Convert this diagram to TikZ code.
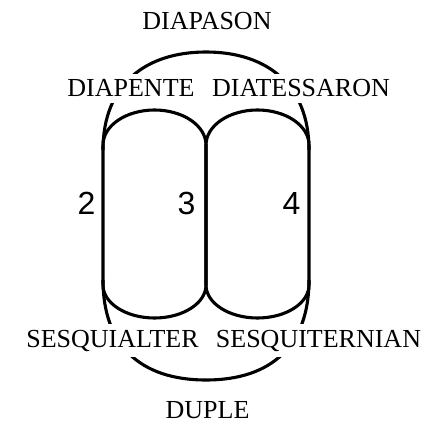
\documentclass[tikz,border=0pt]{standalone}
\usepackage{fontspec}
\setmainfont{Liberation Serif}
\newfontfamily\numfont{Liberation Sans}
\begin{document}
\begin{tikzpicture}[x=1pt,y=1pt,line width=3.1pt,
  lbl/.style={font=\fontsize{26}{28}\selectfont,fill=white,inner xsep=2pt,inner ysep=6pt,anchor=base},
  num/.style={font=\numfont\fontsize{32}{34}\selectfont,inner sep=0pt,anchor=base east}]
\useasboundingbox (0,0) rectangle (428,423);
% two capsules
\draw (103,278) arc[start angle=180,end angle=0,x radius=51.5pt,y radius=35pt]
  -- (206,138) arc[start angle=0,end angle=-180,x radius=51.5pt,y radius=33pt] -- cycle;
\draw (206,278) arc[start angle=180,end angle=0,x radius=51.5pt,y radius=35pt]
  -- (309,138) arc[start angle=0,end angle=-180,x radius=51.5pt,y radius=33pt] -- cycle;
% outer curves
\draw (103,273) .. controls (103,338) and (145,371) .. (206,371)
  .. controls (267,371) and (309,338) .. (309,273);
\draw (103,143) .. controls (103,78) and (140,43) .. (206,43)
  .. controls (272,43) and (309,78) .. (309,143);
% labels
\node[lbl] (diapason) at (207,393) {DIAPASON};
\node[lbl] (diapente) at (131,326) {DIAPENTE};
\node[lbl] (diatess) at (301,326) {DIATESSARON};
\node[lbl] (sesquialter) at (112.5,76) {SESQUIALTER};
\node[lbl] (sesquiternian) at (318.5,76) {SESQUITERNIAN};
\node[lbl] (duple) at (207.5,5) {DUPLE};
\node[num] (n2) at (97,208) {2};
\node[num] (n3) at (197,208) {3};
\node[num] (n4) at (302,208) {4};
\end{tikzpicture}
\end{document}
